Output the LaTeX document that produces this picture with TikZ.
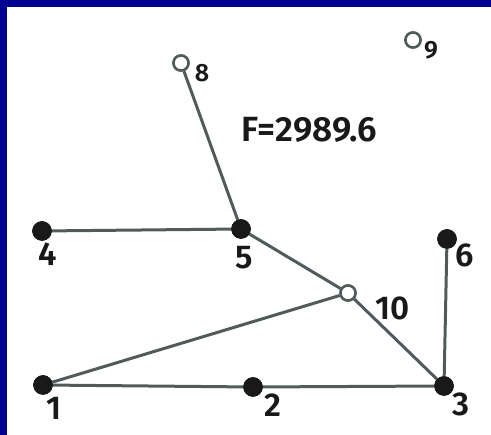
\documentclass[tikz,border=0pt]{standalone}
\usepackage{fontspec}
\setmainfont{Fira Sans}[UprightFont=* SemiBold]
\definecolor{bluebg}{RGB}{0,0,145}
\definecolor{edgec}{RGB}{80,92,92}
\definecolor{nodec}{RGB}{25,25,25}
\begin{document}
\begin{tikzpicture}[x=1pt,y=-1pt,
  full/.style={circle,fill=nodec,draw=nodec,inner sep=0pt,minimum size=19pt},
  hollow/.style={circle,fill=white,draw=edgec,line width=2.5pt,inner sep=0pt,minimum size=15pt},
  edge/.style={draw=edgec,line width=3pt},
  lab/.style={text=nodec,font=\fontsize{33}{33}\selectfont,inner sep=0pt},
  slab/.style={text=nodec,font=\fontsize{25}{25}\selectfont,inner sep=0pt}]
\useasboundingbox (0,0) rectangle (491,435);
\fill[white] (0,0) rectangle (491,435);
\fill[bluebg] (0,0) rectangle (491,7);
\fill[bluebg] (0,0) rectangle (7,435);
% nodes
\node[hollow] (n8) at (181,63) {};
\node[hollow] (n9) at (413,40) {};
\node[full] (n4) at (42,231) {};
\node[full] (n5) at (241,229) {};
\node[full] (n6) at (447,239) {};
\node[hollow] (n10) at (348,293) {};
\node[full] (n1) at (43,385) {};
\node[full] (n2) at (253,387) {};
\node[full] (n3) at (444,386) {};
% edges
\draw[edge] (n8) -- (n5);
\draw[edge] (n4) -- (n5);
\draw[edge] (n5) -- (n10);
\draw[edge] (n10) -- (n3);
\draw[edge] (n10) -- (n1);
\draw[edge] (n1) -- (n2);
\draw[edge] (n2) -- (n3);
\draw[edge] (n6) -- (n3);
% redraw nodes on top
\node[hollow] at (n8) {};
\node[hollow] at (n9) {};
\node[hollow] at (n10) {};
\node[full] at (n4) {};
\node[full] at (n5) {};
\node[full] at (n6) {};
\node[full] at (n1) {};
\node[full] at (n2) {};
\node[full] at (n3) {};
% labels
\node[slab] (l8) at (202,73) {8};
\node[slab] (l9) at (431,50) {9};
\node[lab] (l4) at (48,254) {4};
\node[lab] (l5) at (244,258) {5};
\node[lab] (l6) at (465,255) {6};
\node[lab] (l10) at (393,308) {10};
\node[lab] (l1) at (54,408) {1};
\node[lab] (l2) at (273,405) {2};
\node[lab] (l3) at (461,404) {3};
\node[text=nodec,font=\fontsize{35}{35}\selectfont,inner sep=0pt] (F) at (309,130) {F=2989.6};
\end{tikzpicture}
\end{document}
